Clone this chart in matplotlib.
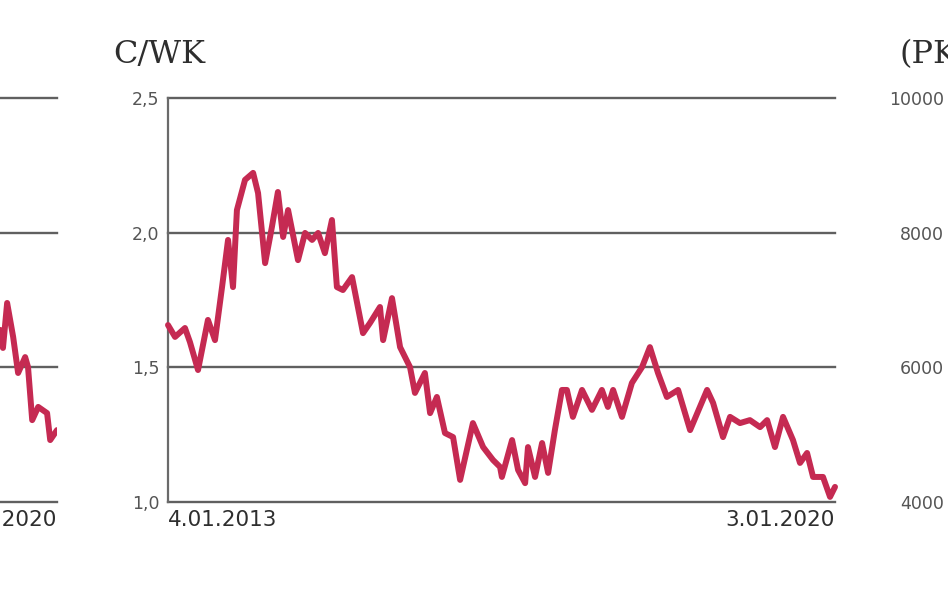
import matplotlib
matplotlib.use("Agg")
import matplotlib.pyplot as plt
import pandas as pd

# ---- main panel: C/WK (price-to-book) ----
dates = ["2013-01-04", "2013-01-31", "2013-03-10", "2013-03-29", "2013-04-29", "2013-06-06",
         "2013-07-03", "2013-07-30", "2013-08-22", "2013-09-10", "2013-09-25", "2013-10-26",
         "2013-11-26", "2013-12-15", "2014-01-11", "2014-02-06", "2014-03-01", "2014-03-21",
         "2014-04-09", "2014-05-17", "2014-06-13", "2014-07-10", "2014-08-02", "2014-08-28",
         "2014-09-24", "2014-10-13", "2014-11-05", "2014-12-10", "2015-01-21", "2015-02-17",
         "2015-03-27", "2015-04-08", "2015-05-12", "2015-06-12", "2015-07-20", "2015-08-08",
         "2015-09-15", "2015-10-05", "2015-10-31", "2015-12-01", "2016-01-01", "2016-01-28",
         "2016-03-17", "2016-04-25", "2016-06-02", "2016-06-29", "2016-07-06", "2016-08-14",
         "2016-09-06", "2016-10-03", "2016-10-14", "2016-11-10", "2016-12-07", "2016-12-30",
         "2017-01-25", "2017-02-21", "2017-03-12", "2017-04-04", "2017-05-09", "2017-06-16",
         "2017-07-24", "2017-08-16", "2017-09-05", "2017-10-09", "2017-11-16", "2017-12-25",
         "2018-01-24", "2018-02-24", "2018-03-30", "2018-05-12", "2018-06-27", "2018-08-31",
         "2018-09-23", "2018-10-31", "2018-11-27", "2019-01-04", "2019-02-11", "2019-03-22",
         "2019-04-18", "2019-05-18", "2019-06-18", "2019-07-26", "2019-08-22", "2019-09-18",
         "2019-10-11", "2019-11-18", "2019-12-15", "2020-01-03"]
cwk = [1.657, 1.613, 1.646, 1.594, 1.490, 1.676,
       1.601, 1.798, 1.973, 1.798, 2.084, 2.196,
       2.222, 2.147, 1.887, 2.021, 2.151, 1.984,
       2.084, 1.898, 1.999, 1.973, 1.999, 1.924,
       2.047, 1.798, 1.787, 1.835, 1.627, 1.665,
       1.724, 1.601, 1.757, 1.575, 1.501, 1.405,
       1.479, 1.330, 1.390, 1.256, 1.241, 1.082,
       1.293, 1.204, 1.156, 1.130, 1.093, 1.230,
       1.119, 1.070, 1.204, 1.093, 1.219, 1.108,
       1.267, 1.416, 1.416, 1.316, 1.416, 1.342,
       1.416, 1.353, 1.416, 1.316, 1.442, 1.501,
       1.575, 1.479, 1.390, 1.416, 1.267, 1.416,
       1.368, 1.241, 1.316, 1.293, 1.304, 1.278,
       1.304, 1.204, 1.316, 1.230, 1.145, 1.182,
       1.093, 1.093, 1.019, 1.056]
yticks = [1.0, 1.5, 2.0, 2.5]
ytick_labels = ["1,0", "1,5", "2,0", "2,5"]
x_labels = ["4.01.2013", "3.01.2020"]
title_main = "C/WK"

# ---- left neighbour panel (only its tail is visible) ----
left_dates = ["2019-05-11", "2019-05-30", "2019-06-10", "2019-06-26", "2019-07-19", "2019-08-07",
              "2019-09-03", "2019-09-14", "2019-09-30", "2019-10-23", "2019-11-26", "2019-12-08",
              "2020-01-03"]
left_vals = [1.60, 1.639, 1.572, 1.739, 1.613, 1.479,
             1.538, 1.501, 1.304, 1.353, 1.330, 1.230,
             1.267]
left_xlabel = "3.01.2020"

# ---- right neighbour panel (only its tick labels are visible) ----
right_ticks = [4000, 6000, 8000, 10000]
right_title = "(PKT.)"

RED = "#c52a52"
GRID = "#606060"
TXT = "#2e2e2e"
TICK = "#555555"

W, H = 948, 593
fig = plt.figure(figsize=(W / 100, H / 100), dpi=100)


def px_axes(x0, x1, y_top=98, y_bot=502):
    return fig.add_axes([x0 / W, 1 - y_bot / H, (x1 - x0) / W, (y_bot - y_top) / H])


start = pd.Timestamp(dates[0])
end = pd.Timestamp(dates[-1])


def style(ax):
    ax.set_xlim(start, end)
    ax.set_ylim(1.0, 2.5)
    ax.set_yticks(yticks)
    for s in ["top", "right", "bottom"]:
        ax.spines[s].set_visible(False)
    ax.spines["left"].set_color("#6a6a6a")
    ax.spines["left"].set_linewidth(1.6)
    ax.grid(axis="y", color=GRID, linewidth=1.7)
    for gl in ax.get_ygridlines():
        gl.set_clip_on(False)
    ax.set_axisbelow(True)
    ax.tick_params(length=0)


# main axes
ax = px_axes(168, 835)
style(ax)
ax.plot(pd.to_datetime(dates), cwk, color=RED, linewidth=4.3, solid_joinstyle="round",
        solid_capstyle="round", zorder=3, clip_on=False)
ax.set_yticklabels(ytick_labels, fontsize=12.5, color=TICK)
ax.tick_params(axis="y", pad=6)
ax.set_xticks([start, end])
ax.set_xticklabels(x_labels, fontsize=15.5, color=TXT)
ax.tick_params(axis="x", pad=6)
tl = ax.get_xticklabels()
tl[0].set_ha("left")
tl[1].set_ha("right")
fig.text(113 / W, 1 - 55 / H, title_main, fontsize=23, family="DejaVu Serif",
         color=TXT, ha="left", va="center")

# left neighbour panel (mostly off-figure)
axl = px_axes(57 - 667, 57)
style(axl)
axl.plot(pd.to_datetime(left_dates), left_vals, color=RED, linewidth=4.3,
         solid_joinstyle="round", solid_capstyle="round", zorder=3)
axl.set_yticklabels([])
axl.set_xticks([end])
axl.set_xticklabels([left_xlabel], fontsize=15.5, color=TXT, ha="right")
axl.tick_params(axis="x", pad=6)

# right neighbour panel (off-figure, tick labels visible)
axr = px_axes(952, 952 + 667)
axr.set_ylim(4000, 10000)
axr.set_yticks(right_ticks)
axr.set_yticklabels([str(t) for t in right_ticks], fontsize=12.5, color=TICK)
axr.tick_params(length=0, axis="y", pad=6)
axr.set_xticks([])
for s in axr.spines.values():
    s.set_visible(False)
fig.text(900 / W, 1 - 55 / H, right_title, fontsize=23, family="DejaVu Serif",
         color=TXT, ha="left", va="center")

fig.savefig("out.png", dpi=100)
